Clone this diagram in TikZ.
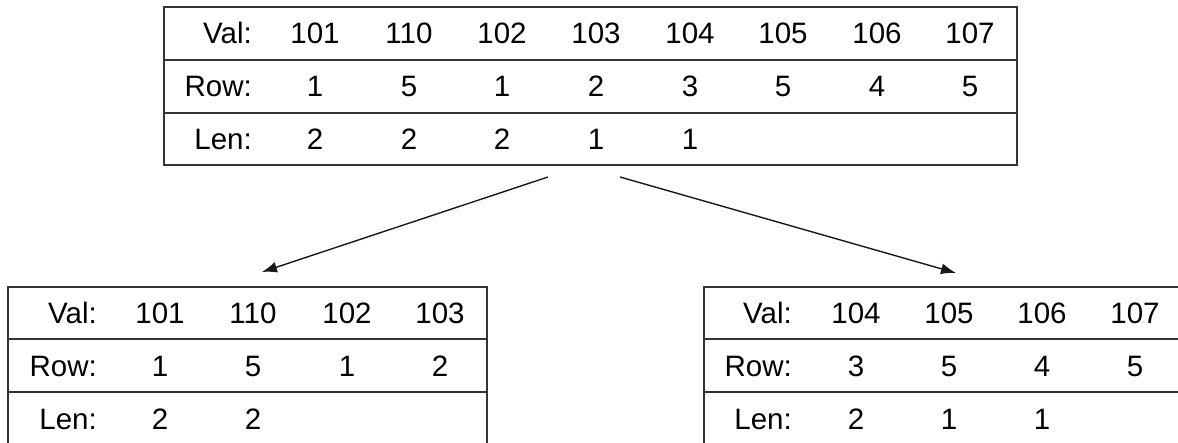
\documentclass[tikz,border=0pt]{standalone}
\usepackage{fontspec}
\setmainfont{Liberation Sans}
\usepackage{tikz}
\usetikzlibrary{positioning, arrows.meta}

\begin{document}
\begin{tikzpicture}[x=1pt,y=-1pt,
        grid/.style={draw=black!80,line width=1.5pt},
        cell/.style={inner sep=0pt,anchor=base,font=\fontsize{29.5}{34}\selectfont},
        lbl/.style={cell,anchor=base east},
        split/.style={-{Latex[length=15pt,width=11pt]},line width=1.4pt,draw=black!90}]

        \useasboundingbox (0,0) rectangle (1178,442);
        \clip (0,0) rectangle (1178,442);

        % parent table
        \draw[grid] (164,7) rectangle (1017,165);
        \draw[grid] (164,60) -- (1017,60);
        \draw[grid] (164,113) -- (1017,113);

        \node[lbl]  (pv0) at (252,43) {Val:};
        \node[cell] (pv1) at (315,43) {101};
        \node[cell] (pv2) at (409,43) {110};
        \node[cell] (pv3) at (502,43) {102};
        \node[cell] (pv4) at (596,43) {103};
        \node[cell] (pv5) at (690,43) {104};
        \node[cell] (pv6) at (783,43) {105};
        \node[cell] (pv7) at (877,43) {106};
        \node[cell] (pv8) at (970,43) {107};

        \node[lbl]  (pr0) at (252,96) {Row:};
        \node[cell] (pr1) at (315,96) {1};
        \node[cell] (pr2) at (409,96) {5};
        \node[cell] (pr3) at (502,96) {1};
        \node[cell] (pr4) at (596,96) {2};
        \node[cell] (pr5) at (690,96) {3};
        \node[cell] (pr6) at (783,96) {5};
        \node[cell] (pr7) at (877,96) {4};
        \node[cell] (pr8) at (970,96) {5};

        \node[lbl]  (pl0) at (252,149) {Len:};
        \node[cell] (pl1) at (315,149) {2};
        \node[cell] (pl2) at (409,149) {2};
        \node[cell] (pl3) at (502,149) {2};
        \node[cell] (pl4) at (596,149) {1};
        \node[cell] (pl5) at (690,149) {1};

        % left child
        \draw[grid] (8,460) -- (8,287) -- (487,287) -- (487,460);
        \draw[grid] (8,339) -- (487,339);
        \draw[grid] (8,392) -- (487,392);

        \node[lbl]  (av0) at (97,323) {Val:};
        \node[cell] (av1) at (160,323) {101};
        \node[cell] (av2) at (253,323) {110};
        \node[cell] (av3) at (347,323) {102};
        \node[cell] (av4) at (440,323) {103};

        \node[lbl]  (ar0) at (97,376) {Row:};
        \node[cell] (ar1) at (160,376) {1};
        \node[cell] (ar2) at (253,376) {5};
        \node[cell] (ar3) at (347,376) {1};
        \node[cell] (ar4) at (440,376) {2};

        \node[lbl]  (al0) at (97,429) {Len:};
        \node[cell] (al1) at (160,429) {2};
        \node[cell] (al2) at (253,429) {2};

        % right child
        \draw[grid] (704,460) -- (704,287) -- (1200,287);
        \draw[grid] (704,339) -- (1200,339);
        \draw[grid] (704,392) -- (1200,392);

        \node[lbl]  (bv0) at (792,323) {Val:};
        \node[cell] (bv1) at (856,323) {104};
        \node[cell] (bv2) at (949,323) {105};
        \node[cell] (bv3) at (1042,323) {106};
        \node[cell] (bv4) at (1135,323) {107};

        \node[lbl]  (br0) at (792,376) {Row:};
        \node[cell] (br1) at (856,376) {3};
        \node[cell] (br2) at (949,376) {5};
        \node[cell] (br3) at (1042,376) {4};
        \node[cell] (br4) at (1135,376) {5};

        \node[lbl]  (bl0) at (792,429) {Len:};
        \node[cell] (bl1) at (856,429) {2};
        \node[cell] (bl2) at (949,429) {1};
        \node[cell] (bl3) at (1042,429) {1};

        % split arrows
        \coordinate (fromL) at (548,177);
        \coordinate (fromR) at (620,177);
        \coordinate (toL) at (262,272);
        \coordinate (toR) at (956,273);

        \path
                  (fromL) edge [split] node []{} (toL)
                  (fromR) edge [split] node []{} (toR);
    \end{tikzpicture}
\end{document}
